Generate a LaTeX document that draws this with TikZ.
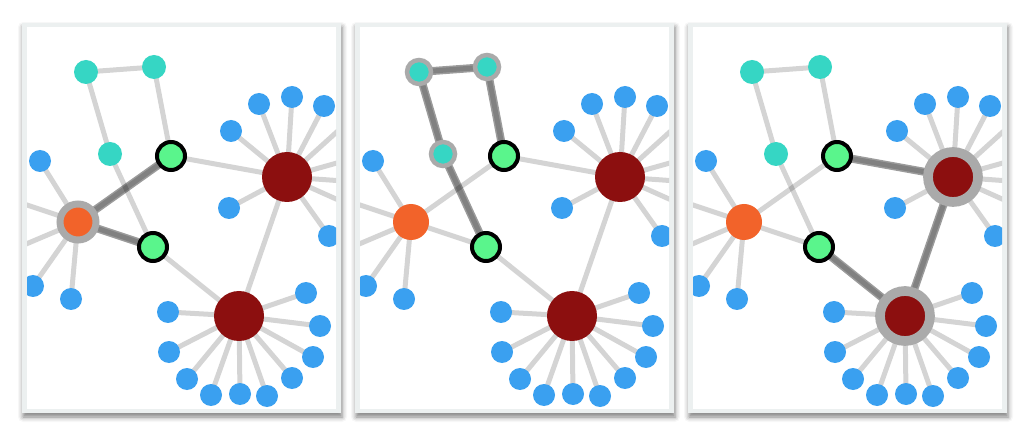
\documentclass[tikz,border=0pt]{standalone}
\usepackage{tikz}
\usetikzlibrary{shadows.blur}
\definecolor{dotblue}{RGB}{58,160,240}
\definecolor{dotteal}{RGB}{54,214,196}
\definecolor{dotgreen}{RGB}{90,245,140}
\definecolor{dotorange}{RGB}{242,99,42}
\definecolor{dotred}{RGB}{140,15,15}
\definecolor{halogrey}{RGB}{170,170,170}
\definecolor{rimgrey}{RGB}{236,240,240}
\tikzset{
  dot/.style={circle, inner sep=0pt, outer sep=0pt},
  leaf/.style={dot, fill=dotblue, minimum size=22pt},
  loopdot/.style={dot, fill=dotteal, minimum size=24pt},
  gate/.style={dot, fill=dotgreen, draw=black, line width=4pt, minimum size=28pt},
  hub/.style={dot, fill=dotorange, minimum size=36pt},
  core/.style={dot, fill=dotred, minimum size=50pt},
  halo/.style={draw=halogrey, line width=#1},
  hlO/.style={}, hlT/.style={}, hlR/.style={},
  link/.style={line width=5pt, draw=black, draw opacity=0.17},
  hot/.style={line width=8pt, draw=black, draw opacity=0.39},
  panel/.style={fill=rimgrey, blur shadow={shadow xshift=1pt, shadow yshift=-4pt, shadow blur radius=5pt, shadow opacity=50}},
}

\begin{document}
\begin{tikzpicture}[x=1pt, y=-1pt]
  \useasboundingbox (0,0) rectangle (1028,438);
  \foreach \p/\dx/\hl/\hot in {
      1/0/{hlO/.style={halo=7pt}}/{O/GA,O/GB},
      2/333/{hlT/.style={halo=4.5pt}}/{GA/TB,TB/TA,TA/TC,TC/GB},
      3/666/{hlR/.style={halo=9.7pt}}/{GA/RA,RA/RB,RB/GB}}{
  \begin{scope}[xshift=\dx pt]
    \expandafter\tikzset\expandafter{\hl}
    % frame
    \fill[panel] (22,23) rectangle (341,413);
    \fill[white] (27,27) rectangle (336,409);
    \begin{scope}
      \clip (27,27) rectangle (336,409);
      % positions
      \coordinate (O\p) at (78,222);
      \coordinate (TA\p) at (86,72);
      \coordinate (TB\p) at (154,67);
      \coordinate (TC\p) at (110,154);
      \coordinate (GA\p) at (171,156);
      \coordinate (GB\p) at (153,247);
      \coordinate (RA\p) at (287,177);
      \coordinate (RB\p) at (239,316);
      \foreach \x/\y [count=\i] in {40/161,33/286,71/299,9/199,12/250}
        \coordinate (bo\p-\i) at (\x,\y);
      \foreach \x/\y [count=\i] in {231/131,259/104,292/97,324/106,229/208,329/236,350/120,369/154,372/183,365/212}
        \coordinate (ba\p-\i) at (\x,\y);
      \foreach \x/\y [count=\i] in {168/312,169/352,187/379,211/395,240/394,267/396,292/378,313/357,320/326,306/293}
        \coordinate (bb\p-\i) at (\x,\y);
      % connectors
      \foreach \a/\b in {O/GA,O/GB,GA/TB,TB/TA,TA/TC,TC/GB,GA/RA,GB/RB,RA/RB}
        \draw[link] (\a\p) -- (\b\p);
      \foreach \i in {1,...,5} \draw[link] (O\p) -- (bo\p-\i);
      \foreach \i in {1,...,10} \draw[link] (RA\p) -- (ba\p-\i);
      \foreach \i in {1,...,10} \draw[link] (RB\p) -- (bb\p-\i);
      \foreach \a/\b in \hot \draw[hot] (\a\p) -- (\b\p);
      % nodes
      \node[hub,hlO] (nO\p) at (O\p) {};
      \foreach \c in {TA,TB,TC} \node[loopdot,hlT] (n\c\p) at (\c\p) {};
      \foreach \c in {GA,GB} \node[gate] (n\c\p) at (\c\p) {};
      \foreach \c in {RA,RB} \node[core,hlR] (n\c\p) at (\c\p) {};
      \foreach \i in {1,...,5} \node[leaf] (nbo\p-\i) at (bo\p-\i) {};
      \foreach \i in {1,...,10} \node[leaf] (nba\p-\i) at (ba\p-\i) {};
      \foreach \i in {1,...,10} \node[leaf] (nbb\p-\i) at (bb\p-\i) {};
    \end{scope}
  \end{scope}
  }
\end{tikzpicture}
\end{document}
